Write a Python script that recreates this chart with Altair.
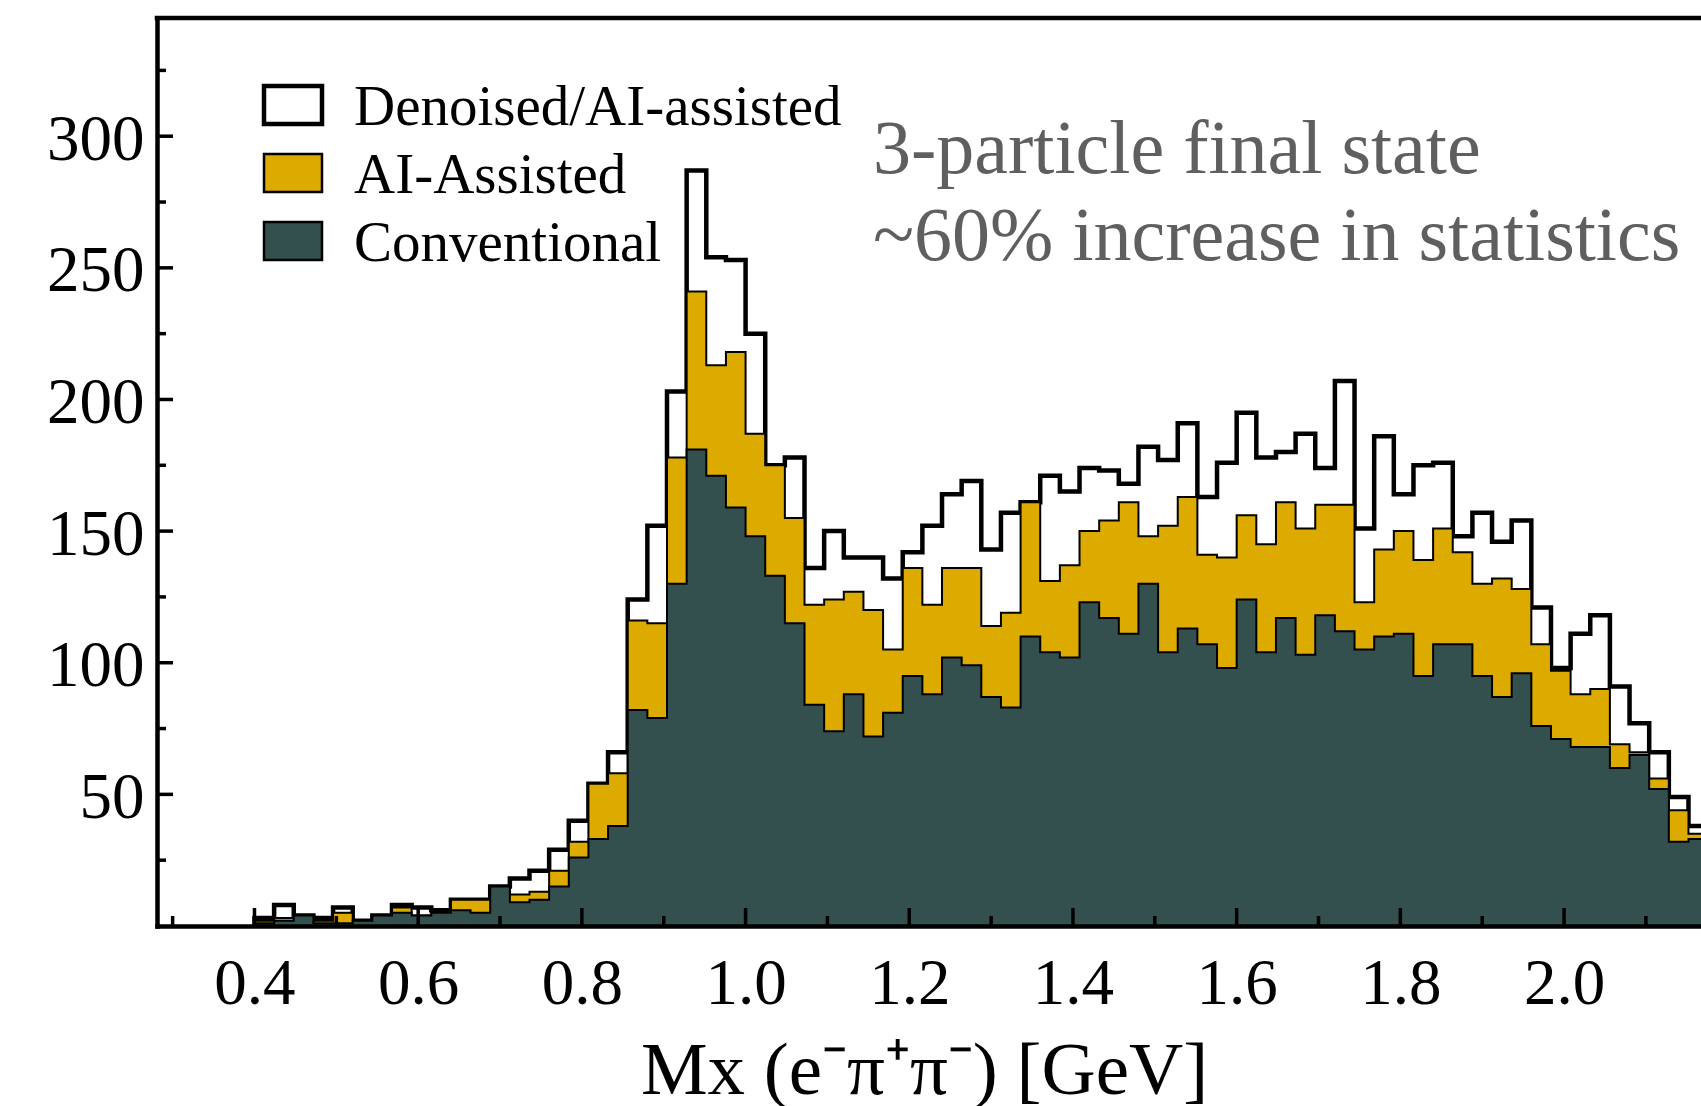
import altair as alt
import numpy as np
import pandas as pd

# ---- histogram contents (counts per 0.024 GeV bin, first bin starts at 0.4 GeV) ----
bin_start = 0.4
bin_width = 0.024

series_names = ["Denoised/AI-assisted", "AI-Assisted", "Conventional"]

denoised = [3, 8, 4, 3, 7, 2, 4, 8, 7, 6, 10, 10, 15, 18, 21, 29, 40, 54, 66, 124,
            152, 203, 287, 254, 253, 225, 175, 178, 136, 150, 140, 140, 132, 142, 152, 164, 169, 143, 157, 161,
            171, 165, 174, 173, 168, 182, 177, 191, 163, 176, 195, 178, 180, 187, 174, 207, 151, 186, 164, 175,
            176, 148, 157, 146, 154, 121, 98, 111, 118, 91, 77, 66, 49, 38]
ai_assisted = [2, 3, 4, 2, 5, 2, 4, 7, 4, 5, 10, 10, 15, 12, 13, 21, 32, 54, 58, 116,
               115, 178, 241, 213, 218, 187, 175, 155, 122, 124, 127, 120, 105, 136, 122, 136, 136, 114, 119, 161,
               131, 137, 150, 154, 161, 148, 152, 163, 141, 140, 156, 145, 161, 151, 160, 160, 123, 143, 150, 139,
               151, 142, 130, 132, 128, 107, 97, 88, 90, 69, 66, 56, 44, 35]
conventional = [1, 2, 4, 1, 1, 2, 4, 5, 4, 5, 6, 5, 15, 9, 10, 15, 26, 33, 38, 82,
                79, 130, 181, 171, 159, 148, 133, 115, 84, 74, 88, 72, 81, 95, 88, 102, 99, 87, 83, 110,
                104, 102, 123, 117, 111, 130, 104, 113, 107, 98, 124, 104, 117, 103, 118, 112, 105, 110, 111, 95,
                107, 107, 95, 87, 96, 76, 71, 68, 68, 60, 65, 52, 32, 33]

# axis ticks
x_major = [0.4, 0.6, 0.8, 1.0, 1.2, 1.4, 1.6, 1.8, 2.0]
x_minor = [0.3, 0.5, 0.7, 0.9, 1.1, 1.3, 1.5, 1.7, 1.9, 2.1]
y_major = [50, 100, 150, 200, 250, 300]
y_minor = [25, 75, 125, 175, 225, 275, 325]

annotation = ["3-particle final state", "~60% increase in statistics"]

# ---- layout ----
W, H = 1544, 908
X_MIN, X_MAX = 0.2809, 2.1673
Y_MAX = 344.9
FONT = "Liberation Serif"
YELLOW = "#ddaa00"
GREEN = "#33504f"

# step outline points: each bin's left edge, plus the closing right edge of the last bin
def steps(name, counts):
    edges = np.round(bin_start + bin_width * np.arange(len(counts) + 1), 4)
    return pd.DataFrame({"series": name, "edge": edges, "count": list(counts) + [counts[-1]]})

hist = pd.concat([steps(n, c) for n, c in zip(series_names, [denoised, ai_assisted, conventional])])

x_axis = alt.Axis(values=x_major, format=".1f", ticks=False, grid=False, labelPadding=26,
                  labelFont=FONT, labelFontSize=65, labelColor="black",
                  domainColor="black", domainWidth=4.5, domainCap="square", zindex=1,
                  title="Mx (e\u207b\u03c0\u207a\u03c0\u207b) [GeV]", titleFont=FONT, titleFontSize=75,
                  titleFontWeight="normal", titleColor="black", titleBaseline="alphabetic",
                  titleY=167, titleX=767)
y_axis = alt.Axis(values=y_major, ticks=False, grid=False, labelPadding=13,
                  labelFont=FONT, labelFontSize=65, labelColor="black", labelOffset=3,
                  domainColor="black", domainWidth=4.5, domainCap="square", zindex=1, title=None)


def xenc(field):
    return alt.X(f"{field}:Q", scale=alt.Scale(domain=[X_MIN, X_MAX], nice=False, zero=False), axis=x_axis)


def yenc(field):
    return alt.Y(f"{field}:Q", stack=None, scale=alt.Scale(domain=[0, Y_MAX], nice=False), axis=y_axis)


base = alt.Chart(hist)
styles = [("white", 4.5), (YELLOW, 2.0), (GREEN, 2.0)]
areas = [
    base.transform_filter(alt.datum.series == name)
    .mark_area(interpolate="step-after", fill=fill, stroke="black", strokeWidth=sw, clip=True)
    .encode(x=xenc("edge"), y=yenc("count"))
    for name, (fill, sw) in zip(series_names, styles)
]

# inward ticks
def xticks(vals, length):
    return alt.Chart(pd.DataFrame({"v": vals})).mark_rule(color="black", strokeWidth=3.5).encode(
        x=xenc("v"), y=alt.value(H), y2=alt.value(H - length))


def yticks(vals, length):
    return alt.Chart(pd.DataFrame({"v": vals})).mark_rule(color="black", strokeWidth=3.5).encode(
        y=yenc("v"), x=alt.value(0), x2=alt.value(length))


ticks = [xticks(x_major, 18), xticks(x_minor, 10), yticks(y_major, 16), yticks(y_minor, 9)]

one = pd.DataFrame({"a": [0]})
top_spine = alt.Chart(one).mark_rule(color="black", strokeWidth=4.5, strokeCap="square").encode(
    x=alt.value(0), x2=alt.value(W), y=alt.value(0))

# legend
legend = []
for i, (name, (fill, sw)) in enumerate(zip(series_names, styles)):
    y0 = 68 + 68 * i
    legend.append(alt.Chart(one).mark_rect(fill=fill, stroke="black", strokeWidth=sw if i == 0 else 2.5).encode(
        x=alt.value(107), x2=alt.value(165), y=alt.value(y0), y2=alt.value(y0 + 38)))
    legend.append(alt.Chart(one).mark_text(align="left", baseline="alphabetic", font=FONT, fontSize=57,
                                           color="black").encode(
        x=alt.value(197), y=alt.value(y0 + 39), text=alt.value(name)))

notes = [
    alt.Chart(one).mark_text(align="left", baseline="alphabetic", font=FONT, fontSize=76,
                             color="#5f5f5f").encode(x=alt.value(716), y=alt.value(155 + 87 * i),
                                                     text=alt.value(t))
    for i, t in enumerate(annotation)
]

chart = alt.layer(*areas, *ticks, top_spine, *legend, *notes).properties(
    width=W, height=H,
    autosize=alt.AutoSizeParams(type="none"),
    padding={"left": 157, "top": 18, "right": 0, "bottom": 180},
).configure_view(stroke=None)

chart.save("out.html", embed_options={"renderer": "svg", "actions": False})
